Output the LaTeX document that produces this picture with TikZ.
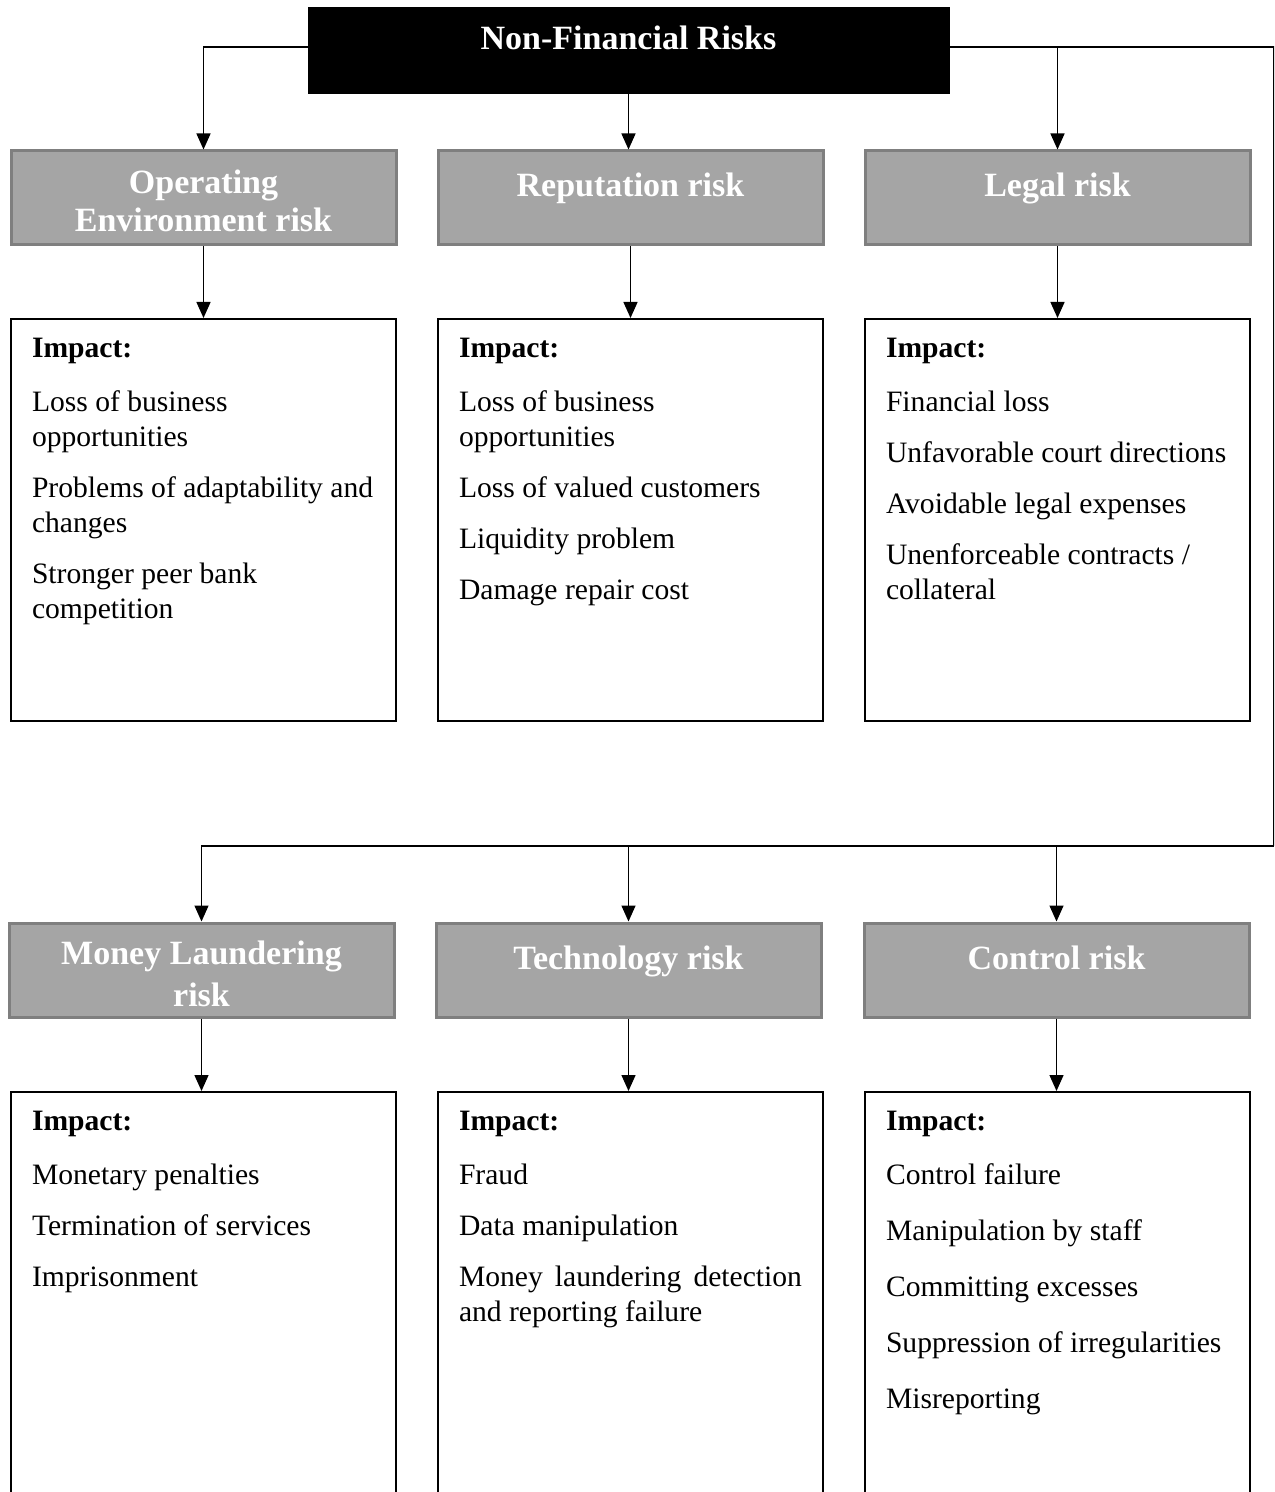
\documentclass[tikz,border=0pt]{standalone}
\usepackage{fontspec}
\setmainfont{Liberation Serif}
\usetikzlibrary{arrows.meta}

\definecolor{headgray}{HTML}{A5A5A5}
\definecolor{edgegray}{HTML}{7F7F7F}

\newcommand{\bodysize}{\fontsize{14.8}{17.5}\selectfont}
\newcommand{\titlesize}{\fontsize{17}{19.5}\selectfont}

% title inside a grey (or black) box: #1 box width, #2 box height, #3 first baseline, #4 text
\newcommand{\boxtitle}[4]{\parbox[c][#2][t]{#1}{\centering\titlesize\bfseries\color{white}\rule{0pt}{#3}#4\par}}
% impact list inside a white box: #1 box height, #2 gap between items, #3 items
\newcommand{\impactlist}[3]{\parbox[c][#1][t]{192.5pt}{\bodysize
  \setlength{\parindent}{0pt}\setlength{\leftskip}{10.5pt}%
  \setlength{\rightskip}{-40pt plus 1fil}\setlength{\parskip}{#2}%
  \rule{0pt}{19pt}\textbf{Impact:}\par\vspace{\dimexpr 9.5pt-#2\relax}#3\par}}

\tikzset{
  headbox/.style={draw=black, fill=black, inner sep=0pt},
  riskbox/.style={draw=edgegray, fill=headgray, line width=1.5pt, inner sep=0pt},
  impactbox/.style={draw=black, fill=white, line width=1pt, inner sep=0pt},
  conn/.style={draw=black, line width=0.7pt},
  arr/.style={conn, -{Triangle[length=8pt,width=7pt]}}
}

\begin{document}
\begin{tikzpicture}[x=0.5pt, y=-0.5pt]
\useasboundingbox (0,0) rectangle (1274,1492);
\clip (0,0) rectangle (1274,1492);

% header
\node[headbox] (nfr) at (628.5,50) {\boxtitle{320.5pt}{43pt}{21.5pt}{Non-Financial Risks}};

% first row of risk categories
\node[riskbox] (op)  at (203.5,198)  {\boxtitle{192.5pt}{47pt}{21.5pt}{Operating\\[-0.5pt]Environment risk}};
\node[riskbox] (rep) at (630.5,198)  {\boxtitle{192.5pt}{47pt}{23pt}{Reputation risk}};
\node[riskbox] (leg) at (1057.5,198) {\boxtitle{192.5pt}{47pt}{23pt}{Legal risk}};

\node[impactbox] (opi) at (203.5,520) {\impactlist{201pt}{8pt}{%
  Loss of business\\opportunities\par
  Problems of adaptability and\\changes\par
  Stronger peer bank\\competition}};
\node[impactbox] (repi) at (630.5,520) {\impactlist{201pt}{8pt}{%
  Loss of business\\opportunities\par
  Loss of valued customers\par
  Liquidity problem\par
  Damage repair cost}};
\node[impactbox] (legi) at (1057.5,520) {\impactlist{201pt}{8pt}{%
  Financial loss\par
  Unfavorable court directions\par
  Avoidable legal expenses\par
  Unenforceable contracts /\\collateral}};

% second row of risk categories
\node[riskbox] (ml)  at (201.5,970)  {\boxtitle{192.5pt}{47pt}{20.5pt}{Money Laundering\\[1.5pt]risk}};
\node[riskbox] (tec) at (628.5,970)  {\boxtitle{192.5pt}{47pt}{23pt}{Technology risk}};
\node[riskbox] (ctl) at (1056.5,970) {\boxtitle{192.5pt}{47pt}{23pt}{Control risk}};

\node[impactbox] (mli) at (203.5,1302) {\impactlist{210pt}{8pt}{%
  Monetary penalties\par
  Termination of services\par
  Imprisonment}};
\node[impactbox] (teci) at (630.5,1302) {\impactlist{210pt}{8pt}{%
  Fraud\par
  Data manipulation\par
  \makebox[171.5pt][s]{Money laundering detection}\\and reporting failure}};
\node[impactbox] (ctli) at (1057.5,1302) {\impactlist{210pt}{10.5pt}{%
  Control failure\par
  Manipulation by staff\par
  Committing excesses\par
  Suppression of irregularities\par
  Misreporting}};

% connectors from the header
\coordinate (ne) at (1273.8,47);
\coordinate (se) at (1273.8,846);
\draw[arr] ([yshift=1.5pt]nfr.west) -| (op.north);
\draw[arr] (nfr.south) -- (nfr.south |- rep.north);
\draw[conn] ([yshift=1.5pt]nfr.east) -- (ne) -- (se);
\draw[arr] (leg.north |- ne) -- (leg.north);
\draw[arr] (se) -| (ml.north);
\draw[arr] (tec.north |- se) -- (tec.north);
\draw[arr] (ctl.north |- se) -- (ctl.north);

% category to impact
\draw[arr] (op.south) -- (opi.north);
\draw[arr] (rep.south) -- (repi.north);
\draw[arr] (leg.south) -- (legi.north);
\draw[arr] (ml.south) -- (ml.south |- mli.north);
\draw[arr] (tec.south) -- (tec.south |- teci.north);
\draw[arr] (ctl.south) -- (ctl.south |- ctli.north);
\end{tikzpicture}
\end{document}
